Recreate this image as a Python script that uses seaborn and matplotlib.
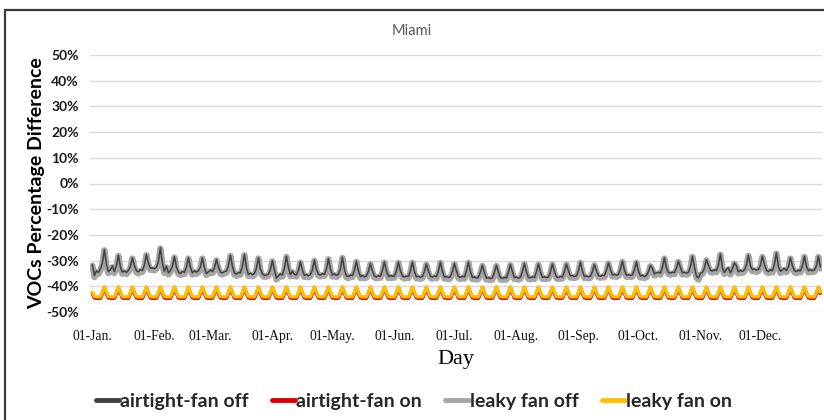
import matplotlib
matplotlib.use("Agg")
import matplotlib.pyplot as plt
import matplotlib.dates as mdates
from matplotlib.lines import Line2D
from matplotlib.patches import Rectangle
import pandas as pd
import seaborn as sns

# ---------------- data (daily values, % difference) ----------------
title = "Miami"
series_names = ["airtight-fan off", "airtight-fan on", "leaky fan off", "leaky fan on"]
y_ticks = [-50, -40, -30, -20, -10, 0, 10, 20, 30, 40, 50]
start_date = "2021-01-01"

airtight_fan_off = [
    -31.5, -35.8, -34.0, -34.6, -33.2, -31.0, -25.7,
    -31.5, -34.3, -33.6, -32.0, -34.2, -32.0, -27.9,
    -32.5, -34.5, -34.0, -34.6, -33.8, -32.3, -28.9,
    -32.0, -33.9, -34.4, -33.5, -33.8, -31.8, -27.6,
    -31.0, -33.0, -32.8, -33.2, -32.6, -30.5, -25.0,
    -31.0, -34.2, -32.1, -34.8, -33.9, -32.2, -28.5,
    -32.4, -34.5, -35.0, -34.2, -34.6, -32.6, -28.9,
    -32.6, -34.8, -33.9, -34.5, -34.0, -32.5, -28.9,
    -32.8, -35.0, -34.4, -33.6, -34.3, -32.9, -29.6,
    -32.4, -34.5, -34.8, -34.3, -34.1, -32.0, -27.9,
    -32.2, -34.8, -35.3, -34.6, -34.9, -32.1, -27.6,
    -32.8, -35.4, -34.9, -35.5, -35.0, -33.0, -28.9,
    -33.2, -35.2, -35.8, -35.6, -35.3, -33.5, -30.0,
    -33.6, -36.8, -35.9, -35.2, -35.6, -33.0, -28.3,
    -32.6, -35.5, -34.0, -35.4, -35.6, -33.8, -30.5,
    -33.6, -35.8, -35.4, -35.9, -35.5, -33.6, -29.8,
    -33.4, -35.3, -35.6, -35.1, -35.4, -33.4, -29.2,
    -33.2, -35.6, -35.1, -35.8, -35.3, -33.2, -28.7,
    -33.4, -35.9, -36.2, -35.6, -35.8, -33.8, -30.2,
    -34.0, -36.2, -35.8, -36.3, -36.0, -34.2, -31.1,
    -34.0, -36.0, -36.3, -35.9, -36.1, -33.9, -30.5,
    -33.9, -36.2, -35.8, -36.1, -36.0, -34.0, -30.6,
    -34.0, -36.0, -36.4, -36.0, -36.2, -34.0, -30.6,
    -34.2, -36.3, -36.1, -36.5, -36.2, -34.3, -31.3,
    -34.0, -36.1, -36.4, -36.0, -36.3, -34.0, -30.6,
    -34.1, -36.4, -36.2, -36.6, -36.3, -34.2, -31.1,
    -33.9, -36.2, -36.5, -36.1, -36.4, -34.0, -30.6,
    -34.3, -36.6, -36.3, -36.8, -36.5, -34.5, -31.8,
    -34.6, -36.8, -36.6, -37.0, -36.7, -34.6, -31.8,
    -34.5, -36.7, -36.9, -36.5, -36.8, -34.5, -31.5,
    -34.3, -36.6, -36.4, -36.8, -36.5, -34.3, -31.1,
    -34.3, -36.5, -36.7, -36.3, -36.6, -34.4, -31.3,
    -34.4, -36.5, -36.3, -36.6, -36.4, -34.4, -31.3,
    -34.2, -36.3, -36.6, -36.2, -36.4, -34.3, -31.3,
    -33.9, -36.0, -35.8, -36.2, -35.9, -34.0, -30.6,
    -34.1, -36.2, -36.0, -36.3, -36.1, -34.3, -31.5,
    -33.9, -35.8, -36.1, -35.7, -35.9, -33.8, -30.9,
    -33.4, -35.6, -35.3, -35.7, -35.4, -33.4, -30.2,
    -33.6, -35.7, -35.5, -35.8, -35.6, -33.6, -30.5,
    -34.0, -36.0, -35.7, -36.2, -35.8, -34.3, -31.9,
    -33.0, -35.2, -34.8, -34.5, -34.9, -32.6, -28.9,
    -32.8, -34.6, -34.9, -34.5, -34.7, -33.0, -30.2,
    -32.6, -34.8, -34.5, -34.9, -34.6, -32.4, -28.3,
    -32.5, -36.0, -36.8, -35.0, -34.6, -33.0, -29.6,
    -31.8, -33.8, -34.1, -33.6, -33.9, -31.8, -27.4,
    -32.8, -34.6, -33.4, -32.8, -34.8, -33.2, -30.9,
    -32.0, -34.4, -33.8, -34.2, -33.6, -31.8, -27.9,
    -32.0, -33.6, -33.2, -33.8, -33.4, -31.9, -28.3,
    -31.4, -33.8, -34.3, -33.5, -34.0, -31.5, -27.0,
    -32.2, -34.2, -33.6, -33.0, -33.9, -32.5, -28.9,
    -32.0, -33.9, -34.3, -33.7, -34.0, -32.0, -28.3,
    -32.2, -34.0, -33.5, -33.9, -33.7, -32.1, -28.3,
    -32.5,
]

leaky_fan_off = [
    -32.0, -36.4, -34.6, -35.2, -33.8, -31.6, -26.0,
    -32.1, -34.9, -34.2, -32.6, -34.8, -32.6, -28.2,
    -33.1, -35.1, -34.6, -35.2, -34.4, -32.9, -29.2,
    -32.6, -34.5, -35.0, -34.1, -34.4, -32.4, -27.9,
    -31.6, -33.6, -33.4, -33.8, -33.2, -31.1, -25.3,
    -31.6, -34.8, -32.7, -35.4, -34.5, -32.8, -28.8,
    -33.0, -35.1, -35.6, -34.8, -35.2, -33.2, -29.2,
    -33.2, -35.4, -34.5, -35.1, -34.6, -33.1, -29.2,
    -33.4, -35.6, -35.0, -34.2, -34.9, -33.5, -29.9,
    -33.0, -35.1, -35.4, -34.9, -34.7, -32.6, -28.2,
    -32.8, -35.4, -35.9, -35.2, -35.5, -32.7, -27.9,
    -33.4, -36.0, -35.5, -36.1, -35.6, -33.6, -29.2,
    -33.8, -35.8, -36.4, -36.2, -35.9, -34.1, -30.3,
    -34.2, -37.4, -36.5, -35.8, -36.2, -33.6, -28.6,
    -33.2, -36.1, -34.6, -36.0, -36.2, -34.4, -30.8,
    -34.2, -36.4, -36.0, -36.5, -36.1, -34.2, -30.1,
    -34.0, -35.9, -36.2, -35.7, -36.0, -34.0, -29.5,
    -33.8, -36.2, -35.7, -36.4, -35.9, -33.8, -29.0,
    -34.0, -36.5, -36.8, -36.2, -36.4, -34.4, -30.5,
    -34.6, -36.8, -36.4, -36.9, -36.6, -34.8, -31.4,
    -34.6, -36.6, -36.9, -36.5, -36.7, -34.5, -30.8,
    -34.5, -36.8, -36.4, -36.7, -36.6, -34.6, -30.9,
    -34.6, -36.6, -37.0, -36.6, -36.8, -34.6, -30.9,
    -34.8, -36.9, -36.7, -37.1, -36.8, -34.9, -31.6,
    -34.6, -36.7, -37.0, -36.6, -36.9, -34.6, -30.9,
    -34.7, -37.0, -36.8, -37.2, -36.9, -34.8, -31.4,
    -34.5, -36.8, -37.1, -36.7, -37.0, -34.6, -30.9,
    -34.9, -37.2, -36.9, -37.4, -37.1, -35.1, -32.1,
    -35.2, -37.4, -37.2, -37.6, -37.3, -35.2, -32.1,
    -35.1, -37.3, -37.5, -37.1, -37.4, -35.1, -31.8,
    -34.9, -37.2, -37.0, -37.4, -37.1, -34.9, -31.4,
    -34.9, -37.1, -37.3, -36.9, -37.2, -35.0, -31.6,
    -35.0, -37.1, -36.9, -37.2, -37.0, -35.0, -31.6,
    -34.8, -36.9, -37.2, -36.8, -37.0, -34.9, -31.6,
    -34.5, -36.6, -36.4, -36.8, -36.5, -34.6, -30.9,
    -34.7, -36.8, -36.6, -36.9, -36.7, -34.9, -31.8,
    -34.5, -36.4, -36.7, -36.3, -36.5, -34.4, -31.2,
    -34.0, -36.2, -35.9, -36.3, -36.0, -34.0, -30.5,
    -34.2, -36.3, -36.1, -36.4, -36.2, -34.2, -30.8,
    -34.6, -36.6, -36.3, -36.8, -36.4, -34.9, -32.2,
    -33.6, -35.8, -35.4, -35.1, -35.5, -33.2, -29.2,
    -33.4, -35.2, -35.5, -35.1, -35.3, -33.6, -30.5,
    -33.2, -35.4, -35.1, -35.5, -35.2, -33.0, -28.6,
    -33.1, -36.6, -37.4, -35.6, -35.2, -33.6, -29.9,
    -32.4, -34.4, -34.7, -34.2, -34.5, -32.4, -27.7,
    -33.4, -35.2, -34.0, -33.4, -35.4, -33.8, -31.2,
    -32.6, -35.0, -34.4, -34.8, -34.2, -32.4, -28.2,
    -32.6, -34.2, -33.8, -34.4, -34.0, -32.5, -28.6,
    -32.0, -34.4, -34.9, -34.1, -34.6, -32.1, -27.3,
    -32.8, -34.8, -34.2, -33.6, -34.5, -33.1, -29.2,
    -32.6, -34.5, -34.9, -34.3, -34.6, -32.6, -28.6,
    -32.8, -34.6, -34.1, -34.5, -34.3, -32.7, -28.6,
    -33.1,
]

airtight_fan_on = [
    -42.7, -44.5, -44.6, -44.6, -44.6, -42.8, -40.5,
    -42.7, -44.5, -44.6, -44.6, -44.6, -42.8, -40.5,
    -42.7, -44.5, -44.6, -44.6, -44.6, -42.8, -40.5,
    -42.7, -44.5, -44.6, -44.6, -44.6, -42.8, -40.5,
    -42.7, -44.5, -44.6, -44.6, -44.6, -42.8, -40.5,
    -42.7, -44.5, -44.6, -44.6, -44.6, -42.8, -40.5,
    -42.7, -44.5, -44.6, -44.6, -44.6, -42.8, -40.5,
    -42.7, -44.5, -44.6, -44.6, -44.6, -42.8, -40.5,
    -42.7, -44.5, -44.6, -44.6, -44.6, -42.8, -40.5,
    -42.7, -44.5, -44.6, -44.6, -44.6, -42.8, -40.5,
    -42.7, -44.5, -44.6, -44.6, -44.6, -42.8, -40.5,
    -42.7, -44.5, -44.6, -44.6, -44.6, -42.8, -40.5,
    -42.7, -44.5, -44.6, -44.6, -44.6, -42.8, -40.5,
    -42.7, -44.5, -44.6, -44.6, -44.6, -42.8, -40.5,
    -42.7, -44.5, -44.6, -44.6, -44.6, -42.8, -40.5,
    -42.7, -44.5, -44.6, -44.6, -44.6, -42.8, -40.5,
    -42.7, -44.5, -44.6, -44.6, -44.6, -42.8, -40.5,
    -42.7, -44.5, -44.6, -44.6, -44.6, -42.8, -40.5,
    -42.7, -44.5, -44.6, -44.6, -44.6, -42.8, -40.5,
    -42.7, -44.5, -44.6, -44.6, -44.6, -42.8, -40.5,
    -42.7, -44.5, -44.6, -44.6, -44.6, -42.8, -40.5,
    -42.7, -44.5, -44.6, -44.6, -44.6, -42.8, -40.5,
    -42.7, -44.5, -44.6, -44.6, -44.6, -42.8, -40.5,
    -42.7, -44.5, -44.6, -44.6, -44.6, -42.8, -40.5,
    -42.7, -44.5, -44.6, -44.6, -44.6, -42.8, -40.5,
    -42.7, -44.5, -44.6, -44.6, -44.6, -42.8, -40.5,
    -42.7, -44.5, -44.6, -44.6, -44.6, -42.8, -40.5,
    -42.7, -44.5, -44.6, -44.6, -44.6, -42.8, -40.5,
    -42.7, -44.5, -44.6, -44.6, -44.6, -42.8, -40.5,
    -42.7, -44.5, -44.6, -44.6, -44.6, -42.8, -40.5,
    -42.7, -44.5, -44.6, -44.6, -44.6, -42.8, -40.5,
    -42.7, -44.5, -44.6, -44.6, -44.6, -42.8, -40.5,
    -42.7, -44.5, -44.6, -44.6, -44.6, -42.8, -40.5,
    -42.7, -44.5, -44.6, -44.6, -44.6, -42.8, -40.5,
    -42.7, -44.5, -44.6, -44.6, -44.6, -42.8, -40.5,
    -42.7, -44.5, -44.6, -44.6, -44.6, -42.8, -40.5,
    -42.7, -44.5, -44.6, -44.6, -44.6, -42.8, -40.5,
    -42.7, -44.5, -44.6, -44.6, -44.6, -42.8, -40.5,
    -42.7, -44.5, -44.6, -44.6, -44.6, -42.8, -40.5,
    -42.7, -44.5, -44.6, -44.6, -44.6, -42.8, -40.5,
    -42.7, -44.5, -44.6, -44.6, -44.6, -42.8, -40.5,
    -42.7, -44.5, -44.6, -44.6, -44.6, -42.8, -40.5,
    -42.7, -44.5, -44.6, -44.6, -44.6, -42.8, -40.5,
    -42.7, -44.5, -44.6, -44.6, -44.6, -42.8, -40.5,
    -42.7, -44.5, -44.6, -44.6, -44.6, -42.8, -40.5,
    -42.7, -44.5, -44.6, -44.6, -44.6, -42.8, -40.5,
    -42.7, -44.5, -44.6, -44.6, -44.6, -42.8, -40.5,
    -42.7, -44.5, -44.6, -44.6, -44.6, -42.8, -40.5,
    -42.7, -44.5, -44.6, -44.6, -44.6, -42.8, -40.5,
    -42.7, -44.5, -44.6, -44.6, -44.6, -42.8, -40.5,
    -42.7, -44.5, -44.6, -44.6, -44.6, -42.8, -40.5,
    -42.7, -44.5, -44.6, -44.6, -44.6, -42.8, -40.5,
    -42.7,
]

leaky_fan_on = [
    -42.3, -44.0, -44.1, -44.1, -44.1, -42.4, -40.2,
    -42.3, -44.0, -44.1, -44.1, -44.1, -42.4, -40.2,
    -42.3, -44.0, -44.1, -44.1, -44.1, -42.4, -40.2,
    -42.3, -44.0, -44.1, -44.1, -44.1, -42.4, -40.2,
    -42.3, -44.0, -44.1, -44.1, -44.1, -42.4, -40.2,
    -42.3, -44.0, -44.1, -44.1, -44.1, -42.4, -40.2,
    -42.3, -44.0, -44.1, -44.1, -44.1, -42.4, -40.2,
    -42.3, -44.0, -44.1, -44.1, -44.1, -42.4, -40.2,
    -42.3, -44.0, -44.1, -44.1, -44.1, -42.4, -40.2,
    -42.3, -44.0, -44.1, -44.1, -44.1, -42.4, -40.2,
    -42.3, -44.0, -44.1, -44.1, -44.1, -42.4, -40.2,
    -42.3, -44.0, -44.1, -44.1, -44.1, -42.4, -40.2,
    -42.3, -44.0, -44.1, -44.1, -44.1, -42.4, -40.2,
    -42.3, -44.0, -44.1, -44.1, -44.1, -42.4, -40.2,
    -42.3, -44.0, -44.1, -44.1, -44.1, -42.4, -40.2,
    -42.3, -44.0, -44.1, -44.1, -44.1, -42.4, -40.2,
    -42.3, -44.0, -44.1, -44.1, -44.1, -42.4, -40.2,
    -42.3, -44.0, -44.1, -44.1, -44.1, -42.4, -40.2,
    -42.3, -44.0, -44.1, -44.1, -44.1, -42.4, -40.2,
    -42.3, -44.0, -44.1, -44.1, -44.1, -42.4, -40.2,
    -42.3, -44.0, -44.1, -44.1, -44.1, -42.4, -40.2,
    -42.3, -44.0, -44.1, -44.1, -44.1, -42.4, -40.2,
    -42.3, -44.0, -44.1, -44.1, -44.1, -42.4, -40.2,
    -42.3, -44.0, -44.1, -44.1, -44.1, -42.4, -40.2,
    -42.3, -44.0, -44.1, -44.1, -44.1, -42.4, -40.2,
    -42.3, -44.0, -44.1, -44.1, -44.1, -42.4, -40.2,
    -42.3, -44.0, -44.1, -44.1, -44.1, -42.4, -40.2,
    -42.3, -44.0, -44.1, -44.1, -44.1, -42.4, -40.2,
    -42.3, -44.0, -44.1, -44.1, -44.1, -42.4, -40.2,
    -42.3, -44.0, -44.1, -44.1, -44.1, -42.4, -40.2,
    -42.3, -44.0, -44.1, -44.1, -44.1, -42.4, -40.2,
    -42.3, -44.0, -44.1, -44.1, -44.1, -42.4, -40.2,
    -42.3, -44.0, -44.1, -44.1, -44.1, -42.4, -40.2,
    -42.3, -44.0, -44.1, -44.1, -44.1, -42.4, -40.2,
    -42.3, -44.0, -44.1, -44.1, -44.1, -42.4, -40.2,
    -42.3, -44.0, -44.1, -44.1, -44.1, -42.4, -40.2,
    -42.3, -44.0, -44.1, -44.1, -44.1, -42.4, -40.2,
    -42.3, -44.0, -44.1, -44.1, -44.1, -42.4, -40.2,
    -42.3, -44.0, -44.1, -44.1, -44.1, -42.4, -40.2,
    -42.3, -44.0, -44.1, -44.1, -44.1, -42.4, -40.2,
    -42.3, -44.0, -44.1, -44.1, -44.1, -42.4, -40.2,
    -42.3, -44.0, -44.1, -44.1, -44.1, -42.4, -40.2,
    -42.3, -44.0, -44.1, -44.1, -44.1, -42.4, -40.2,
    -42.3, -44.0, -44.1, -44.1, -44.1, -42.4, -40.2,
    -42.3, -44.0, -44.1, -44.1, -44.1, -42.4, -40.2,
    -42.3, -44.0, -44.1, -44.1, -44.1, -42.4, -40.2,
    -42.3, -44.0, -44.1, -44.1, -44.1, -42.4, -40.2,
    -42.3, -44.0, -44.1, -44.1, -44.1, -42.4, -40.2,
    -42.3, -44.0, -44.1, -44.1, -44.1, -42.4, -40.2,
    -42.3, -44.0, -44.1, -44.1, -44.1, -42.4, -40.2,
    -42.3, -44.0, -44.1, -44.1, -44.1, -42.4, -40.2,
    -42.3, -44.0, -44.1, -44.1, -44.1, -42.4, -40.2,
    -42.3,
]

# ---------------- styling ----------------
colors = {
    "airtight-fan off": "#404040",
    "airtight-fan on": "#e00000",
    "leaky fan off": "#a6a6a6",
    "leaky fan on": "#ffc000",
}
widths = {
    "leaky fan off": 4.6,
    "airtight-fan off": 1.1,
    "airtight-fan on": 2.6,
    "leaky fan on": 2.4,
}
draw_order = ["leaky fan off", "airtight-fan off", "airtight-fan on", "leaky fan on"]

sns.set_theme(style="white")
plt.rcParams['font.family'] = ['Lato', 'DejaVu Sans']

dates = pd.date_range(start_date, periods=len(airtight_fan_off), freq="D")
df = pd.DataFrame({
    "date": dates,
    "airtight-fan off": airtight_fan_off,
    "airtight-fan on": airtight_fan_on,
    "leaky fan off": leaky_fan_off,
    "leaky fan on": leaky_fan_on,
})

W, H = 824, 420
fig = plt.figure(figsize=(W / 100, H / 100), dpi=100)
fig.patch.set_facecolor("white")
ax = fig.add_axes([90 / W, 1 - 312 / H, (822 - 90) / W, (312 - 55) / H])

for name in draw_order:
    sns.lineplot(data=df, x="date", y=name, ax=ax, color=colors[name],
                 linewidth=widths[name], legend=False, zorder=3)

ax.set_ylim(y_ticks[0], y_ticks[-1])
ax.set_xlim(dates[0] - pd.Timedelta(days=1.2), dates[-1] + pd.Timedelta(days=0.8))
ax.set_yticks(y_ticks)
ax.set_yticklabels([f"{v}%" for v in y_ticks], fontweight="bold", fontsize=10, color="#1a1a1a")
ax.yaxis.grid(True, color="#d9d9d9", linewidth=1.0, zorder=0)
ax.xaxis.grid(False)
for s in ax.spines.values():
    s.set_visible(False)
ax.tick_params(axis="y", length=0, pad=8)
ax.tick_params(axis="x", length=0, pad=13)

month_starts = pd.date_range(start_date, periods=12, freq="MS")
ax.set_xticks(month_starts)
ax.xaxis.set_major_formatter(mdates.DateFormatter("%d-%b."))
for lbl in ax.get_xticklabels():
    lbl.set_fontfamily("Liberation Serif")
    lbl.set_fontsize(9.8)
    lbl.set_color("#111111")

ax.set_xlabel("Day", fontfamily="Liberation Serif", fontsize=16, color="black", labelpad=5)
ax.set_ylabel("VOCs Percentage Difference", fontweight="bold", fontsize=14, color="black")
ax.yaxis.set_label_coords((45 - 90) / (822 - 90), 0.5)

fig.text(412 / W, 1 - 31 / H, title, ha="center", va="center", fontsize=10.5, color="#595959")

handles = [Line2D([0], [0], color=colors[n], lw=3.5) for n in series_names]
fig.legend(handles, series_names, loc="center", bbox_to_anchor=(414 / W, 1 - 401 / H), ncol=4,
           frameon=False, prop={"weight": "bold", "size": 14}, handlelength=1.2,
           handletextpad=0.05, columnspacing=1.2)

fig.patches.append(Rectangle((5 / W, -0.1), 1.2, 1.1 - 10 / H, transform=fig.transFigure,
                             fill=False, edgecolor="#3a3a3a", linewidth=1.6))

fig.savefig("out.png", dpi=100, facecolor="white")
